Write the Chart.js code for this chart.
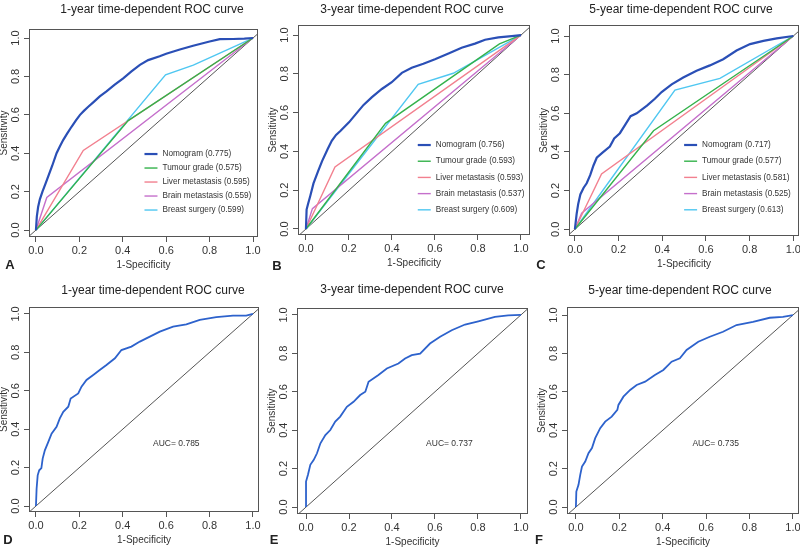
<!DOCTYPE html>
<html>
<head>
<meta charset="utf-8">
<script src="https://cdn.jsdelivr.net/npm/chart.js@4.4.1/dist/chart.umd.min.js"></script>
<style>
    body { margin: 0; background: #fff; width: 800px; height: 550px; position: relative; overflow: hidden; }
    canvas { position: absolute; }
</style>
</head>
<body>
<script>
// ---- data ----
const tickValues = [0, 0.2, 0.4, 0.6, 0.8, 1.0];
const modelNames = ['Nomogram', 'Tumour grade', 'Liver metastasis', 'Brain metastasis', 'Breast surgery'];
const modelColors = ['#2a4fb6', '#34b24b', '#f2808f', '#c56fcb', '#4fc7f1'];
const auc1Year = [0.775, 0.575, 0.595, 0.559, 0.599];
const auc3Year = [0.756, 0.593, 0.593, 0.537, 0.609];
const auc5Year = [0.717, 0.577, 0.581, 0.525, 0.613];
const aucValidation = [0.785, 0.737, 0.735];

// ROC points as [1-specificity, sensitivity]
const nomogram1Year = [[0,0],[0.004,0.07],[0.01,0.12],[0.018,0.16],[0.03,0.2],[0.045,0.245],[0.06,0.29],[0.075,0.335],[0.095,0.4],[0.11,0.435],[0.126,0.47],[0.145,0.505],[0.164,0.538],[0.185,0.572],[0.203,0.6],[0.222,0.622],[0.241,0.642],[0.264,0.665],[0.294,0.696],[0.325,0.722],[0.363,0.757],[0.402,0.79],[0.44,0.826],[0.479,0.86],[0.517,0.885],[0.57,0.905],[0.6,0.918],[0.663,0.94],[0.724,0.96],[0.8,0.982],[0.847,0.994],[0.908,0.995],[0.96,0.997],[1,1]];
const grade1Year = [[0,0],[0.425,0.57],[1,1]];
const liver1Year = [[0,0],[0.218,0.415],[1,1]];
const brain1Year = [[0,0],[0.05,0.17],[1,1]];
const surgery1Year = [[0,0],[0.597,0.808],[0.725,0.859],[1,1]];

const nomogram3Year = [[0,0],[0.003,0.1],[0.01,0.13],[0.02,0.17],[0.035,0.235],[0.057,0.3],[0.075,0.35],[0.1,0.41],[0.12,0.455],[0.14,0.485],[0.16,0.505],[0.2,0.55],[0.23,0.59],[0.268,0.64],[0.307,0.68],[0.353,0.722],[0.399,0.757],[0.446,0.805],[0.492,0.832],[0.546,0.852],[0.6,0.875],[0.663,0.905],[0.724,0.935],[0.786,0.956],[0.833,0.976],[0.895,0.988],[0.957,0.995],[1,1]];
const grade3Year = [[0,0],[0.37,0.545],[0.9,0.955],[1,1]];
const liver3Year = [[0,0],[0.135,0.32],[1,1]];
const brain3Year = [[0,0],[0.03,0.105],[1,1]];
const surgery3Year = [[0,0],[0.522,0.746],[0.685,0.803],[1,1]];

const nomogram5Year = [[0,0],[0.008,0.08],[0.015,0.13],[0.025,0.18],[0.04,0.215],[0.054,0.238],[0.07,0.28],[0.085,0.33],[0.1,0.37],[0.125,0.395],[0.16,0.428],[0.18,0.47],[0.206,0.497],[0.23,0.54],[0.255,0.585],[0.283,0.6],[0.33,0.64],[0.366,0.675],[0.397,0.71],[0.443,0.75],[0.496,0.785],[0.557,0.82],[0.618,0.848],[0.679,0.88],[0.74,0.925],[0.802,0.958],[0.863,0.975],[0.924,0.988],[1,1]];
const grade5Year = [[0,0],[0.36,0.51],[1,1]];
const liver5Year = [[0,0],[0.122,0.286],[1,1]];
const brain5Year = [[0,0],[0.031,0.083],[1,1]];
const surgery5Year = [[0,0],[0.458,0.72],[0.664,0.781],[1,1]];

const validation1Year = [[0,0],[0.003,0.09],[0.008,0.16],[0.015,0.186],[0.025,0.198],[0.031,0.247],[0.041,0.29],[0.057,0.334],[0.072,0.377],[0.095,0.412],[0.11,0.456],[0.126,0.49],[0.149,0.517],[0.16,0.56],[0.195,0.586],[0.21,0.621],[0.233,0.656],[0.264,0.682],[0.294,0.708],[0.325,0.734],[0.364,0.769],[0.394,0.812],[0.44,0.83],[0.479,0.856],[0.525,0.882],[0.571,0.908],[0.632,0.934],[0.693,0.946],[0.755,0.969],[0.831,0.983],[0.908,0.991],[0.969,0.991],[1,1]];
const validation3Year = [[0,0],[0,0.133],[0.009,0.168],[0.02,0.22],[0.036,0.246],[0.051,0.28],[0.067,0.332],[0.09,0.375],[0.113,0.401],[0.136,0.445],[0.159,0.471],[0.19,0.522],[0.221,0.548],[0.252,0.583],[0.276,0.6],[0.291,0.652],[0.337,0.687],[0.376,0.721],[0.43,0.747],[0.461,0.773],[0.492,0.791],[0.531,0.799],[0.577,0.851],[0.624,0.886],[0.678,0.92],[0.74,0.95],[0.802,0.967],[0.879,0.99],[0.941,0.998],[1,1]];
const validation5Year = [[0,0],[0.002,0.081],[0.012,0.116],[0.02,0.168],[0.028,0.211],[0.043,0.237],[0.058,0.281],[0.074,0.307],[0.089,0.359],[0.112,0.411],[0.135,0.445],[0.165,0.471],[0.191,0.506],[0.196,0.532],[0.219,0.575],[0.25,0.61],[0.28,0.636],[0.319,0.653],[0.364,0.688],[0.403,0.714],[0.441,0.757],[0.479,0.775],[0.51,0.818],[0.564,0.861],[0.617,0.887],[0.678,0.913],[0.74,0.948],[0.816,0.965],[0.893,0.986],[0.954,0.991],[1,1]];

const FONT = '"Liberation Sans", Arial, Helvetica, sans-serif';
const Y_AXIS_W = 30;
const X_AXIS_H = 36;

function rocLine(points, color, width, label) {
    return {
        label: label,
        data: points.map(p => ({ x: p[0], y: p[1] })),
        borderColor: color,
        borderWidth: width,
        pointRadius: 0,
        tension: 0,
        fill: false
    };
}

function modelSet(curves, aucs) {
    return curves.map((c, i) => rocLine(c, modelColors[i], i === 0 ? 2.2 : 1.4,
        modelNames[i] + ' (' + aucs[i].toFixed(3) + ')'));
}

// cell = canvas rect on the page, box = plot frame on the page
const panels = [
    { letter: 'A', cell: [0, 0, 265, 275], box: [29, 29, 258, 237], xRange: [-0.032, 1.023], yRange: [-0.036, 1.047],
      title: '1-year time-dependent ROC curve', titleAt: [152, 10], letterAt: [10, 265],
      datasets: modelSet([nomogram1Year, grade1Year, liver1Year, brain1Year, surgery1Year], auc1Year),
      legendAt: [0.5, 0.396], legendGap: 14 },
    { letter: 'B', cell: [265, 0, 265, 275], box: [298, 25, 530, 235], xRange: [-0.037, 1.042], yRange: [-0.031, 1.052],
      title: '3-year time-dependent ROC curve', titleAt: [412, 10], letterAt: [277, 266],
      datasets: modelSet([nomogram3Year, grade3Year, liver3Year, brain3Year, surgery3Year], auc3Year),
      legendAt: [0.52, 0.433], legendGap: 16.2 },
    { letter: 'C', cell: [530, 0, 270, 275], box: [569, 25, 799, 236], xRange: [-0.027, 1.026], yRange: [-0.035, 1.057],
      title: '5-year time-dependent ROC curve', titleAt: [681, 10], letterAt: [541, 265],
      datasets: modelSet([nomogram5Year, grade5Year, liver5Year, brain5Year, surgery5Year], auc5Year),
      legendAt: [0.5, 0.436], legendGap: 16.2 },
    { letter: 'D', cell: [0, 275, 265, 275], box: [29, 307, 259, 512], xRange: [-0.032, 1.028], yRange: [-0.031, 1.036],
      title: '1-year time-dependent ROC curve', titleAt: [153, 291], letterAt: [8, 540],
      datasets: [rocLine(validation1Year, '#2d62cc', 1.8)], aucText: 'AUC= ' + aucValidation[0].toFixed(3), aucAt: [0.647, 0.323] },
    { letter: 'E', cell: [265, 275, 265, 275], box: [297, 308, 528, 514], xRange: [-0.042, 1.033], yRange: [-0.036, 1.036],
      title: '3-year time-dependent ROC curve', titleAt: [412, 290], letterAt: [274, 540],
      datasets: [rocLine(validation3Year, '#2d62cc', 1.8)], aucText: 'AUC= ' + aucValidation[1].toFixed(3), aucAt: [0.667, 0.33] },
    { letter: 'F', cell: [530, 275, 270, 275], box: [567, 307, 799, 514], xRange: [-0.041, 1.028], yRange: [-0.036, 1.042],
      title: '5-year time-dependent ROC curve', titleAt: [680, 291], letterAt: [539, 540],
      datasets: [rocLine(validation5Year, '#2d62cc', 1.8)], aucText: 'AUC= ' + aucValidation[2].toFixed(3), aucAt: [0.644, 0.33] }
];

// frame, title, panel letter, legend and AUC note
const panelDecor = {
    id: 'panelDecor',
    afterDraw(chart, args, opts) {
        const { ctx, chartArea: a, scales: { x, y } } = chart;
        ctx.save();
        ctx.strokeStyle = '#555';
        ctx.lineWidth = 1;
        ctx.strokeRect(Math.round(a.left) + 0.5, Math.round(a.top) + 0.5,
            Math.round(a.right - a.left) - 1, Math.round(a.bottom - a.top) - 1);

        ctx.fillStyle = '#222';
        ctx.textAlign = 'center';
        ctx.textBaseline = 'middle';
        ctx.font = '12px ' + FONT;
        ctx.fillText(opts.title, opts.titleX, opts.titleY);
        ctx.font = 'bold 13px ' + FONT;
        ctx.fillText(opts.letter, opts.letterX, opts.letterY);

        if (opts.legendAt) {
            const lx = x.getPixelForValue(opts.legendAt[0]);
            let ly = y.getPixelForValue(opts.legendAt[1]);
            ctx.font = '8.2px ' + FONT;
            ctx.textAlign = 'left';
            chart.data.datasets.forEach(ds => {
                if (!ds.label) return;
                ctx.strokeStyle = ds.borderColor;
                ctx.lineWidth = ds.borderWidth;
                ctx.beginPath();
                ctx.moveTo(lx, ly);
                ctx.lineTo(lx + 13, ly);
                ctx.stroke();
                ctx.fillStyle = '#333';
                ctx.fillText(ds.label, lx + 18, ly);
                ly += opts.legendGap;
            });
        }
        if (opts.aucText) {
            ctx.font = '8.5px ' + FONT;
            ctx.fillStyle = '#333';
            ctx.textAlign = 'center';
            ctx.fillText(opts.aucText, x.getPixelForValue(opts.aucAt[0]), y.getPixelForValue(opts.aucAt[1]));
        }
        ctx.restore();
    }
};

const setTicks = scale => { scale.ticks = tickValues.map(v => ({ value: v })); };

panels.forEach(p => {
    const [cx, cy, cw, ch] = p.cell;
    const [bl, bt, br, bb] = p.box;
    const canvas = document.createElement('canvas');
    canvas.width = cw;
    canvas.height = ch;
    canvas.style.left = cx + 'px';
    canvas.style.top = cy + 'px';
    document.body.appendChild(canvas);

    const diagonal = rocLine([[-0.2, -0.2], [1.2, 1.2]], '#555', 1);

    new Chart(canvas, {
        type: 'line',
        data: { datasets: p.datasets.concat([diagonal]) },
        options: {
            responsive: false,
            animation: false,
            layout: {
                padding: { left: bl - cx - Y_AXIS_W, top: bt - cy, right: cx + cw - br, bottom: cy + ch - bb - X_AXIS_H }
            },
            plugins: {
                legend: { display: false },
                tooltip: { enabled: false },
                panelDecor: {
                    title: p.title, titleX: p.titleAt[0] - cx, titleY: p.titleAt[1] - cy,
                    letter: p.letter, letterX: p.letterAt[0] - cx, letterY: p.letterAt[1] - cy,
                    legendAt: p.legendAt, legendGap: p.legendGap,
                    aucText: p.aucText, aucAt: p.aucAt
                }
            },
            scales: {
                x: {
                    type: 'linear',
                    position: 'bottom',
                    min: p.xRange[0],
                    max: p.xRange[1],
                    afterBuildTicks: setTicks,
                    afterFit: s => { s.height = X_AXIS_H; s.paddingLeft = 0; s.paddingRight = 0; },
                    grid: { drawOnChartArea: false, tickLength: 5, color: '#555' },
                    border: { display: false },
                    ticks: {
                        padding: 2, color: '#333', maxRotation: 0, autoSkip: false,
                        font: { family: FONT, size: 11 },
                        callback: v => v.toFixed(1)
                    },
                    title: {
                        display: true, text: '1-Specificity', color: '#333',
                        font: { family: FONT, size: 10, lineHeight: 1.2 },
                        padding: { top: 0, bottom: 2 }
                    }
                },
                y: {
                    type: 'linear',
                    position: 'left',
                    min: p.yRange[0],
                    max: p.yRange[1],
                    afterBuildTicks: setTicks,
                    afterFit: s => { s.width = Y_AXIS_W; s.paddingTop = 0; s.paddingBottom = 0; },
                    grid: { drawOnChartArea: false, tickLength: 5, color: '#555' },
                    border: { display: false },
                    ticks: {
                        minRotation: 90, maxRotation: 90, crossAlign: 'center',
                        padding: 0, color: '#333', autoSkip: false,
                        font: { family: FONT, size: 11 },
                        callback: v => v.toFixed(1)
                    },
                    title: {
                        display: true, text: 'Sensitivity', color: '#333',
                        font: { family: FONT, size: 10, lineHeight: 1 },
                        padding: { top: 0, bottom: 0 }
                    }
                }
            }
        },
        plugins: [panelDecor]
    });
});
</script>
</body>
</html>
